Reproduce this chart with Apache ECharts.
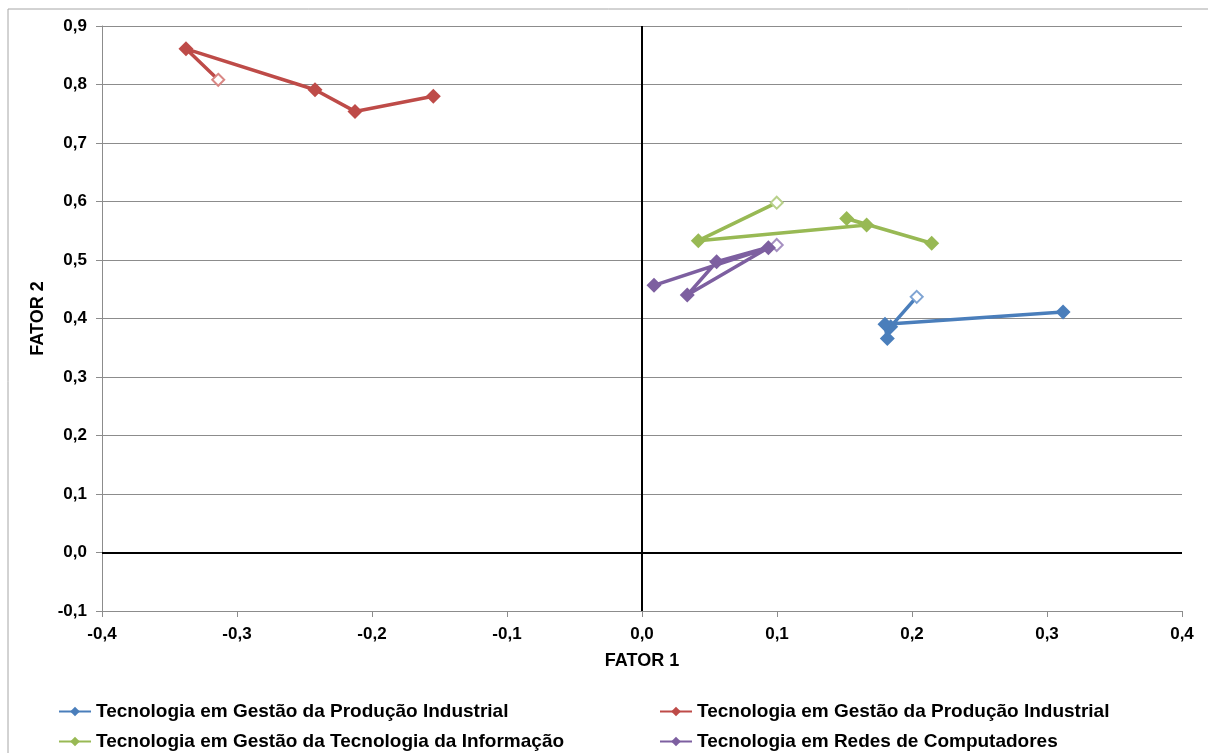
<!DOCTYPE html>
<html>
<head>
<meta charset="utf-8">
<script src="https://cdn.jsdelivr.net/npm/echarts@6/dist/echarts.min.js"></script>
<style>
html,body{margin:0;padding:0;background:#fff;}
#chart{width:1208px;height:753px;}
</style>
</head>
<body>
<div id="chart"></div>
<script>
// Series names (legend labels)
const seriesNames = [
  'Tecnologia em Gestão da Produção Industrial',
  'Tecnologia em Gestão da Produção Industrial',
  'Tecnologia em Gestão da Tecnologia da Informação',
  'Tecnologia em Redes de Computadores'
];
// Values (first point of each series is the hollow marker)
const blueX   = [0.2035, 0.1842, 0.1817, 0.1800, 0.3119];
const blueY   = [0.437, 0.386, 0.366, 0.390, 0.411];
const redX    = [-0.3139, -0.3378, -0.2422, -0.2126, -0.1546];
const redY    = [0.808, 0.861, 0.791, 0.754, 0.780];
const greenX  = [0.0998, 0.0417, 0.1664, 0.1516, 0.2146];
const greenY  = [0.598, 0.533, 0.560, 0.571, 0.5286];
const purpleX = [0.0998, 0.0553, 0.0335, 0.0936, 0.0089];
const purpleY = [0.5257, 0.497, 0.440, 0.521, 0.4567];
// Axis ranges / ticks
const xTicks = [-0.4, -0.3, -0.2, -0.1, 0.0, 0.1, 0.2, 0.3, 0.4];
const yTicks = [-0.1, 0.0, 0.1, 0.2, 0.3, 0.4, 0.5, 0.6, 0.7, 0.8, 0.9];

const colors = ['#4A7EBB', '#BE4B48', '#98B954', '#7D5FA0'];
const hollowColors = ['#7FA4D3', '#D98784', '#B8D08A', '#A690C1'];
const xs = [blueX, redX, greenX, purpleX];
const ys = [blueY, redY, greenY, purpleY];
const ids = ['s1', 's2', 's3', 's4'];

const fmt = v => (Math.round(v * 10) / 10).toFixed(1).replace('.', ',');

const series = ids.map((id, i) => {
  const data = xs[i].map((x, j) => {
    const pt = { value: [x, ys[i][j]] };
    if (j === 0) {
      pt.symbol = 'emptyDiamond';
      pt.symbolSize = 12;
      pt.itemStyle = { color: hollowColors[i], borderColor: hollowColors[i], borderWidth: 1.3 };
    }
    return pt;
  });
  const s = {
    name: id,
    type: 'line',
    data: data,
    symbol: 'diamond',
    symbolSize: 15,
    showAllSymbol: true,
    color: colors[i],
    lineStyle: { width: 3.5, color: colors[i] },
    itemStyle: { color: colors[i] },
    z: 5 + i,
    animation: false
  };
  if (i === 0) {
    s.markLine = {
      silent: true,
      symbol: 'none',
      label: { show: false },
      lineStyle: { color: '#000', width: 2, type: 'solid' },
      data: [{ xAxis: 0 }, { yAxis: 0 }],
      z: 1,
      animation: false
    };
  }
  return s;
});

const labelMap = {};
ids.forEach((id, i) => labelMap[id] = seriesNames[i]);

const legendPos = [[53, 697], [654, 697], [53, 727], [654, 727]];
const legends = ids.map((id, i) => ({
  left: legendPos[i][0],
  top: legendPos[i][1],
  data: [id],
  itemWidth: 32,
  itemHeight: 12,
  textStyle: { fontFamily: 'Liberation Sans, Arial, sans-serif', fontWeight: 'bold', fontSize: 19, color: '#000' },
  formatter: n => labelMap[n],
  selectedMode: false
}));

const chart = echarts.init(document.getElementById('chart'), null, { renderer: 'canvas' });
chart.setOption({
  backgroundColor: '#fff',
  animation: false,
  graphic: [{
    type: 'rect',
    shape: { x: 8, y: 9, width: 1220, height: 780 },
    style: { fill: 'none', stroke: '#a6a6a6', lineWidth: 1 },
    silent: true,
    z: -10
  }],
  legend: legends,
  grid: { left: 102, right: 26, top: 26, bottom: 142, containLabel: false },
  xAxis: {
    type: 'value',
    min: xTicks[0],
    max: xTicks[xTicks.length - 1],
    interval: 0.1,
    name: 'FATOR 1',
    nameLocation: 'middle',
    nameGap: 41,
    nameTextStyle: { fontFamily: 'Liberation Sans, Arial, sans-serif', fontWeight: 'bold', fontSize: 18, color: '#000' },
    axisLine: { show: true, onZero: false, lineStyle: { color: '#8c8c8c', width: 1 } },
    axisTick: { show: true, length: 6, lineStyle: { color: '#8c8c8c' } },
    axisLabel: { formatter: fmt, margin: 15, fontFamily: 'Liberation Sans, Arial, sans-serif', fontWeight: 'bold', fontSize: 17, color: '#000' },
    splitLine: { show: false }
  },
  yAxis: {
    type: 'value',
    min: yTicks[0],
    max: yTicks[yTicks.length - 1],
    interval: 0.1,
    name: 'FATOR 2',
    nameLocation: 'middle',
    nameGap: 54,
    nameRotate: 90,
    nameTextStyle: { fontFamily: 'Liberation Sans, Arial, sans-serif', fontWeight: 'bold', fontSize: 18, color: '#000' },
    axisLine: { show: true, onZero: false, lineStyle: { color: '#8c8c8c', width: 1 } },
    axisTick: { show: true, length: 6, lineStyle: { color: '#8c8c8c' } },
    axisLabel: { formatter: fmt, margin: 15, fontFamily: 'Liberation Sans, Arial, sans-serif', fontWeight: 'bold', fontSize: 17, color: '#000' },
    splitLine: { show: true, lineStyle: { color: '#8c8c8c', width: 1 } }
  },
  series: series
});
</script>
</body>
</html>
